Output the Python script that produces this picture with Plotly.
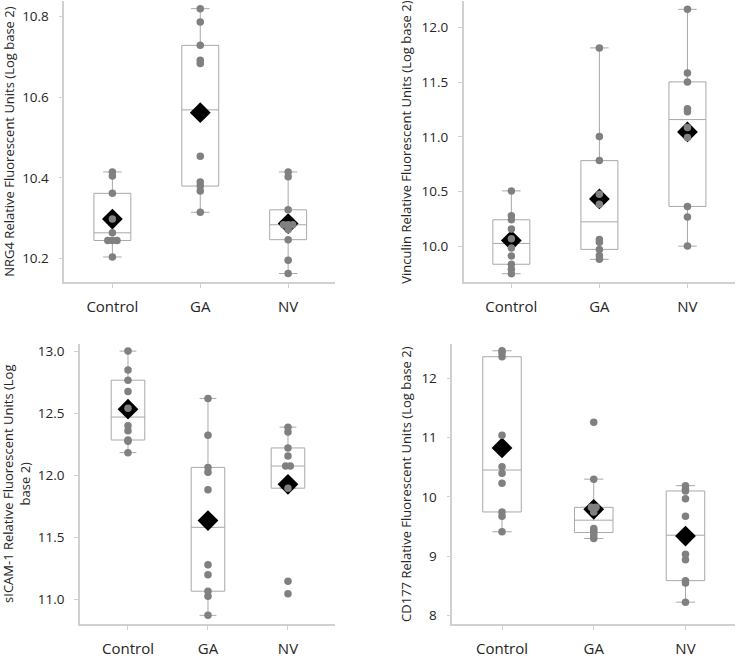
import numpy as np
import plotly.graph_objects as go

groups = ["Control", "GA", "NV"]

# ---- data ----
nrg4_control = [10.415, 10.405, 10.362, 10.298, 10.264, 10.245, 10.245, 10.245, 10.204]
nrg4_ga = [10.820, 10.787, 10.729, 10.692, 10.684, 10.454, 10.390, 10.380, 10.368, 10.315]
nrg4_nv = [10.415, 10.403, 10.321, 10.284, 10.284, 10.284, 10.272, 10.247, 10.196, 10.163]

vinculin_control = [10.505, 10.278, 10.241, 10.157, 10.067, 9.982, 9.910, 9.834, 9.789, 9.747]
vinculin_ga = [11.813, 11.003, 10.782, 10.474, 10.384, 10.060, 10.036, 9.970, 9.915, 9.879]
vinculin_nv = [12.166, 11.583, 11.502, 11.257, 11.230, 11.085, 10.994, 10.363, 10.266, 10.000]

sicam_control = [13.003, 12.851, 12.768, 12.677, 12.541, 12.400, 12.360, 12.285, 12.275, 12.183]
sicam_ga = [12.621, 12.323, 12.064, 12.024, 11.883, 11.277, 11.197, 11.064, 11.024, 10.869]
sicam_nv = [12.389, 12.349, 12.221, 12.155, 12.075, 12.075, 11.896, 11.144, 11.043]

cd177_control = [12.462, 12.428, 12.362, 11.038, 10.509, 10.398, 10.231, 9.747, 9.675, 9.413]
cd177_ga = [11.260, 10.300, 9.825, 9.825, 9.747, 9.470, 9.440, 9.400, 9.350, 9.300]
cd177_nv = [10.190, 10.130, 10.100, 9.970, 9.675, 9.035, 8.940, 8.590, 8.550, 8.228]

nrg4_ticks = [10.2, 10.4, 10.6, 10.8]
vinculin_ticks = [10.0, 10.5, 11.0, 11.5, 12.0]
sicam_ticks = [11.0, 11.5, 12.0, 12.5, 13.0]
cd177_ticks = [8, 9, 10, 11, 12]

titles = [
    "NRG4 Relative Fluorescent Units (Log base 2)",
    "Vinculin Relative Fluorescent Units (Log base 2)",
    "sICAM-1 Relative Fluorescent Units (Log<br>base 2)",
    "CD177 Relative Fluorescent Units (Log base 2)",
]

# ---- layout geometry (pixels) ----
W, H = 736, 658
panels = [
    dict(data=[nrg4_control, nrg4_ga, nrg4_nv], ticks=nrg4_ticks, fmt=".1f",
         xpx=(64.3, 335), ypx=(0, 284), xr=(-0.547, 2.533), yr=(10.141, 10.839), tx=9),
    dict(data=[vinculin_control, vinculin_ga, vinculin_nv], ticks=vinculin_ticks, fmt=".1f",
         xpx=(463.7, 735), ypx=(0, 284), xr=(-0.541, 2.54), yr=(9.668, 12.242), tx=406),
    dict(data=[sicam_control, sicam_ga, sicam_nv], ticks=sicam_ticks, fmt=".1f",
         xpx=(80, 335), ypx=(345.7, 629), xr=(-0.6, 2.588), yr=(10.797, 13.064), tx=17),
    dict(data=[cd177_control, cd177_ga, cd177_nv], ticks=cd177_ticks, fmt="d",
         xpx=(452.3, 735), ypx=(345.7, 629), xr=(-0.542, 2.54), yr=(7.855, 12.584), tx=406),
]


def sas_quantile(vals, p):
    x = sorted(vals)
    n = len(x)
    npv = n * p
    j = int(np.floor(npv + 1e-9))
    if abs(npv - j) < 1e-9:
        return (x[j - 1] + x[j]) / 2.0
    return x[int(np.ceil(npv)) - 1]


def dodge(vals, step):
    offs = []
    seen = {}
    counts = {}
    for v in vals:
        counts[v] = counts.get(v, 0) + 1
    for v in vals:
        k = counts[v]
        i = seen.get(v, 0)
        seen[v] = i + 1
        offs.append((i - (k - 1) / 2.0) * step)
    return offs


fig = go.Figure()
axis_col = "#d0d0d0"
box_col = "#a8a8a8"
pt_col = "#808080"
txt_col = "#262626"
font_family = "Open Sans"

annotations = []
for idx, p in enumerate(panels):
    n = idx + 1
    xa = "x" if n == 1 else f"x{n}"
    ya = "y" if n == 1 else f"y{n}"
    px_per_unit = (p["xpx"][1] - p["xpx"][0]) / (p["xr"][1] - p["xr"][0])
    step = 4.6 / px_per_unit
    for gi, vals in enumerate(p["data"]):
        q1 = sas_quantile(vals, 0.25)
        med = sas_quantile(vals, 0.5)
        q3 = sas_quantile(vals, 0.75)
        iqr = q3 - q1
        lf = min(v for v in vals if v >= q1 - 1.5 * iqr)
        uf = max(v for v in vals if v <= q3 + 1.5 * iqr)
        fig.add_trace(go.Box(
            x=[gi], q1=[q1], median=[med], q3=[q3], lowerfence=[lf], upperfence=[uf],
            width=0.42, whiskerwidth=0.5, boxpoints=False,
            fillcolor="rgba(255,255,255,0)", line=dict(color=box_col, width=1),
            xaxis=xa, yaxis=ya, showlegend=False, hoverinfo="skip"))
    for gi, vals in enumerate(p["data"]):
        fig.add_trace(go.Scatter(
            x=[gi], y=[float(np.mean(vals))], mode="markers",
            marker=dict(symbol="diamond", size=16, color="black"),
            xaxis=xa, yaxis=ya, showlegend=False, hoverinfo="skip"))
    for gi, vals in enumerate(p["data"]):
        offs = dodge(vals, step)
        fig.add_trace(go.Scatter(
            x=[gi + o for o in offs], y=vals, mode="markers",
            marker=dict(symbol="circle", size=7.5, color=pt_col, line=dict(width=0)),
            xaxis=xa, yaxis=ya, showlegend=False, hoverinfo="skip"))

    xdom = [p["xpx"][0] / W, p["xpx"][1] / W]
    ydom = [1 - p["ypx"][1] / H, 1 - p["ypx"][0] / H]
    common = dict(showline=True, linecolor=axis_col, linewidth=1.5, ticks="outside",
                  tickcolor=axis_col, showgrid=False, zeroline=False, fixedrange=True)
    fig.layout[f"xaxis{'' if n == 1 else n}"] = dict(
        domain=xdom, range=list(p["xr"]), anchor=ya, tickvals=[0, 1, 2], ticktext=groups,
        ticklen=4, tickfont=dict(size=15, color=txt_col, family=font_family),
        ticklabelstandoff=6, **common)
    fig.layout[f"yaxis{'' if n == 1 else n}"] = dict(
        domain=ydom, range=list(p["yr"]), anchor=xa, tickvals=p["ticks"], tickformat=p["fmt"],
        ticklen=4, tickfont=dict(size=13.5, color=txt_col, family=font_family),
        ticklabelstandoff=7, **common)
    annotations.append(dict(
        text=titles[idx], xref="paper", yref="paper", x=p["tx"] / W,
        y=(ydom[0] + ydom[1]) / 2, xanchor="center", yanchor="middle", textangle=-90,
        showarrow=False, font=dict(size=13, color=txt_col, family=font_family)))

fig.update_layout(
    width=W, height=H, margin=dict(l=0, r=0, t=0, b=0),
    paper_bgcolor="white", plot_bgcolor="white", annotations=annotations)

fig.write_html("out.html", config={"displayModeBar": False},
               post_script="document.body.style.margin='0';document.body.style.overflow='hidden';")
